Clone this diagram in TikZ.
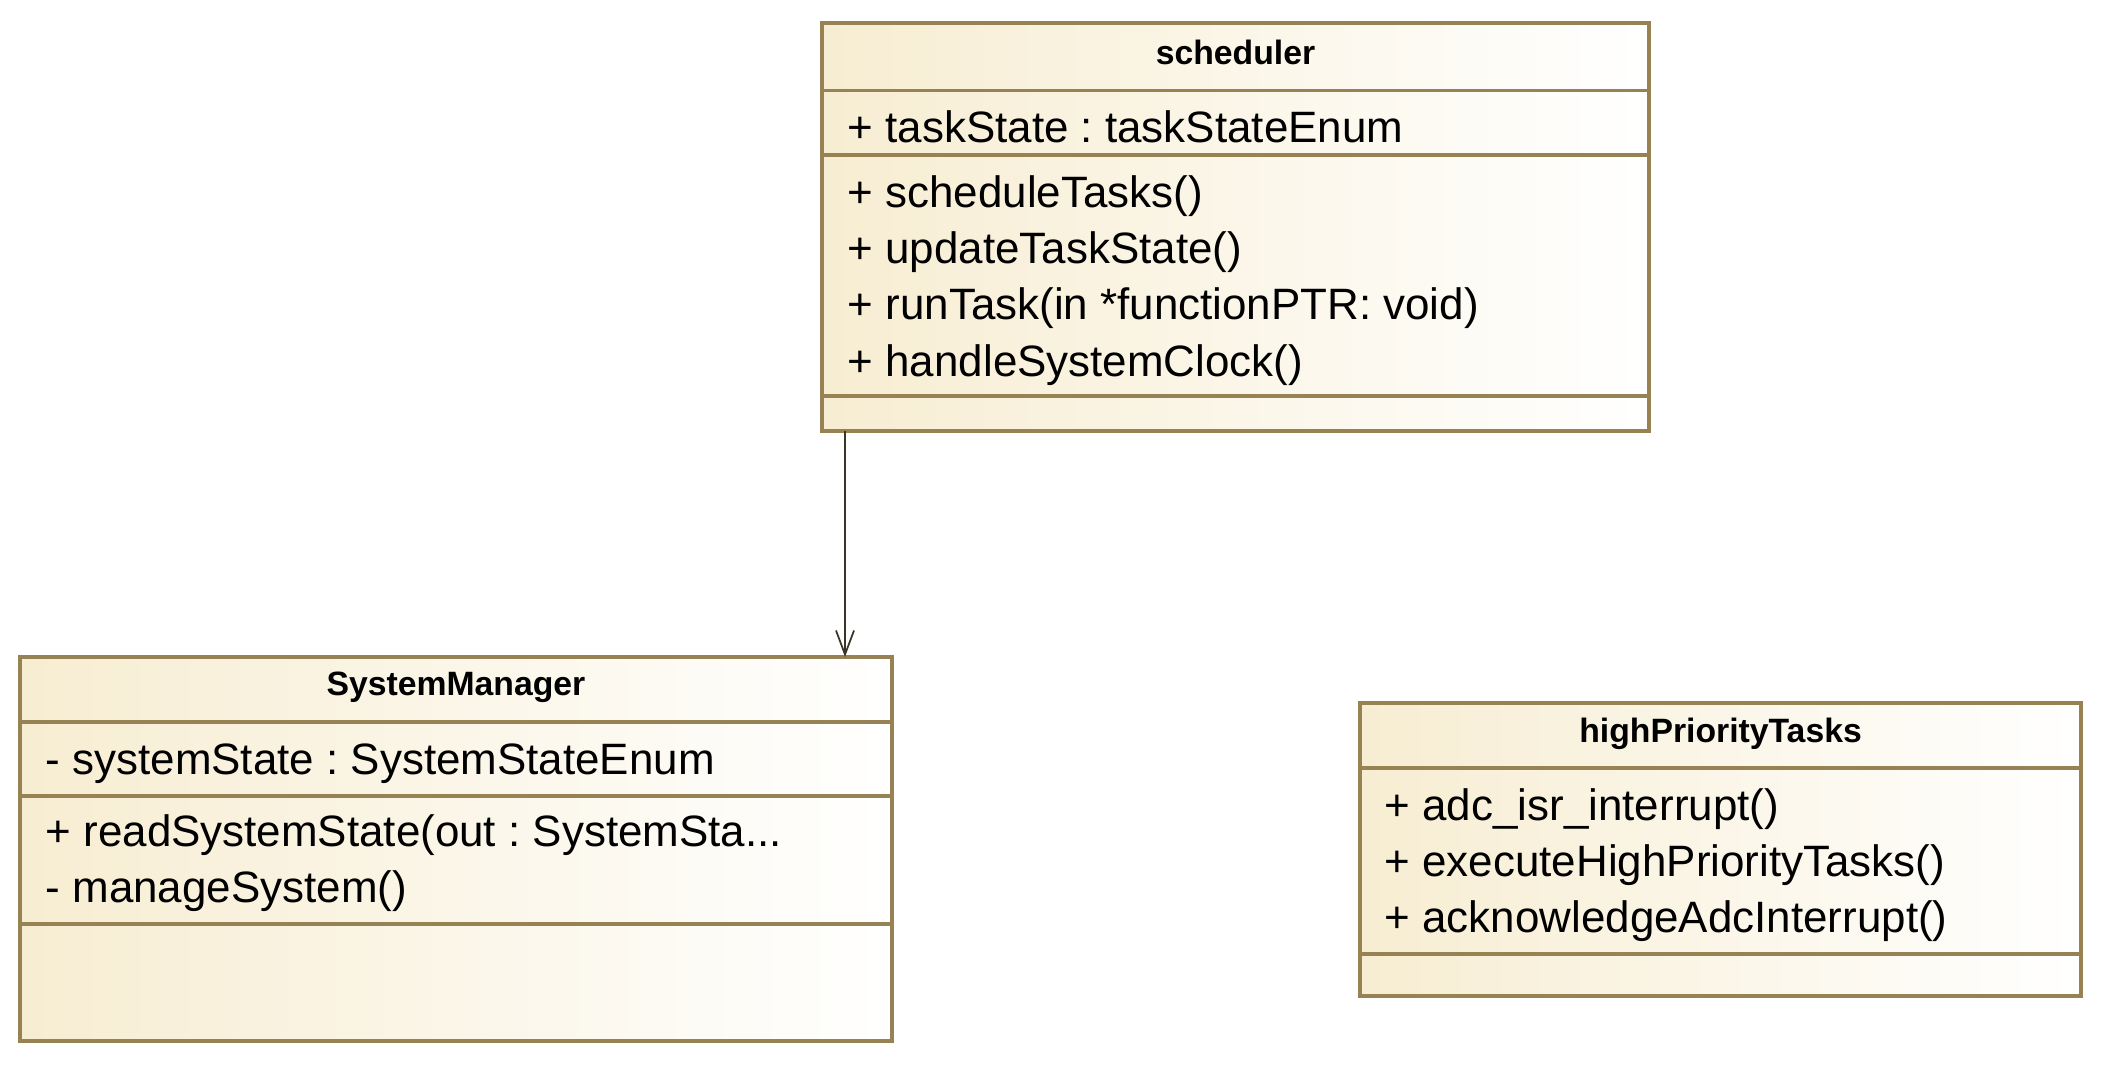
\documentclass[tikz,border=0pt]{standalone}
\usepackage{fontspec}
\setmainfont{Liberation Sans}
\usepackage{tikz}
\usetikzlibrary{positioning,arrows.meta,shadows}
\frenchspacing
\definecolor{umlborder}{HTML}{978254}
\definecolor{umlfill}{HTML}{F7EDD2}
\definecolor{umlline}{HTML}{3B3528}
\tikzset{
  classbox/.style={draw=umlborder,line width=1.3pt,left color=umlfill,right color=white,inner sep=0,outer sep=0,anchor=north west,
    drop shadow={shadow xshift=0.6pt,shadow yshift=-0.6pt,fill=black!15,opacity=1}},
  sepline/.style={draw=umlborder,line width=1pt},
  classname/.style={font=\bfseries\fontsize{9.6}{11}\selectfont,inner sep=0},
  members/.style={font=\fontsize{12.5}{16}\selectfont,align=left,anchor=west,inner sep=0},
  assoc/.style={-{Straight Barb[length=2.4mm,width=1.8mm]},draw=umlline,line width=0.5pt}}
\begin{document}
\begin{tikzpicture}
  \useasboundingbox (0,0) rectangle (21.19,-10.81);
  \node[classbox,minimum width=8.27cm,minimum height=4.08cm] (sched) at (8.22,-0.23) {};
  \draw[sepline] (sched.west |- 0,-0.905) -- (sched.east |- 0,-0.905);
  \draw[sepline] (sched.west |- 0,-1.55) -- (sched.east |- 0,-1.55);
  \draw[sepline] (sched.west |- 0,-3.96) -- (sched.east |- 0,-3.96);
  \node[classname] (schedname) at (12.355,-0.52) {scheduler};
  \node[members] (schedattr) at (8.47,-1.27) {+ taskState : taskStateEnum};
  \node[members] (schedops) at (8.47,-2.805) {+ scheduleTasks()\\+ updateTaskState()\\+ runTask(in *functionPTR: void)\\+ handleSystemClock()};

  \node[classbox,minimum width=8.72cm,minimum height=3.84cm] (sysmgr) at (0.20,-6.57) {};
  \draw[sepline] (sysmgr.west |- 0,-7.22) -- (sysmgr.east |- 0,-7.22);
  \draw[sepline] (sysmgr.west |- 0,-7.96) -- (sysmgr.east |- 0,-7.96);
  \draw[sepline] (sysmgr.west |- 0,-9.24) -- (sysmgr.east |- 0,-9.24);
  \node[classname] (sysmgrname) at (4.56,-6.87) {SystemManager};
  \node[members] (sysmgrattr) at (0.45,-7.64) {- systemState : SystemStateEnum};
  \node[members] (sysmgrops) at (0.45,-8.635) {+ readSystemState(out : SystemSta...\\- manageSystem()};

  \node[classbox,minimum width=7.21cm,minimum height=2.93cm] (hpt) at (13.60,-7.03) {};
  \draw[sepline] (hpt.west |- 0,-7.68) -- (hpt.east |- 0,-7.68);
  \draw[sepline] (hpt.west |- 0,-9.54) -- (hpt.east |- 0,-9.54);
  \node[classname] (hptname) at (17.205,-7.34) {highPriorityTasks};
  \node[members] (hptops) at (13.84,-8.65) {+ adc\_isr\_interrupt()\\+ executeHighPriorityTasks()\\+ acknowledgeAdcInterrupt()};

  \coordinate (assocx) at (8.45,0);
  \draw[assoc] (sched.south -| assocx) -- (sysmgr.north -| assocx);
\end{tikzpicture}
\end{document}
